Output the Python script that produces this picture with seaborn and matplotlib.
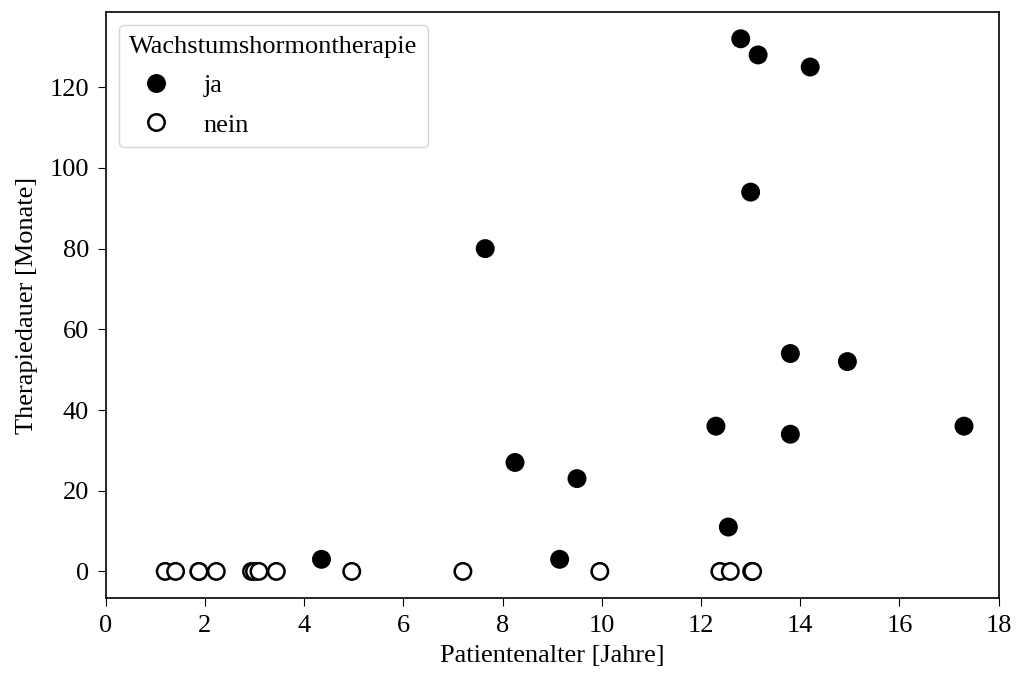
import pandas as pd
import matplotlib.pyplot as plt
import seaborn as sns

# Patientenalter [Jahre], Therapiedauer [Monate]
alter_ja = [12.8, 13.15, 14.2, 13.0, 7.65, 13.8, 14.95, 12.3, 13.8, 17.3, 8.25, 9.5, 12.55, 4.35, 9.15]
dauer_ja = [132, 128, 125, 94, 80, 54, 52, 36, 34, 36, 27, 23, 11, 3, 3]
alter_nein = [1.2, 1.41, 1.88, 1.88, 2.23, 2.94, 3.0, 3.09, 3.44, 4.96, 7.2, 9.96, 12.38, 12.59, 13.02, 13.04]
dauer_nein = [0] * len(alter_nein)

df = pd.DataFrame({
    "alter": alter_ja + alter_nein,
    "dauer": dauer_ja + dauer_nein,
    "Wachstumshormontherapie": ["ja"] * len(alter_ja) + ["nein"] * len(alter_nein),
})

sns.set_style("ticks")
plt.rcParams["font.family"] = ["Liberation Serif", "DejaVu Serif"]
for key in ["text.color", "axes.labelcolor", "xtick.color", "ytick.color", "axes.edgecolor"]:
    plt.rcParams[key] = "black"
fs = 19

fig, ax = plt.subplots(figsize=(10.16, 6.75), dpi=100)
sns.scatterplot(data=df, x="alter", y="dauer", hue="Wachstumshormontherapie",
                palette={"ja": "black", "nein": "white"}, edgecolor="black",
                linewidth=1.8, s=140, ax=ax)

ax.set_xlim(0, 18)
ax.set_xticks(range(0, 19, 2))
ax.set_yticks(range(0, 121, 20))
ax.set_xlabel("Patientenalter [Jahre]", fontsize=fs, labelpad=6)
ax.set_ylabel("Therapiedauer [Monate]", fontsize=fs, labelpad=8)
ax.tick_params(labelsize=fs, length=6, pad=6)
for sp in ax.spines.values():
    sp.set_visible(True)
    sp.set_linewidth(1.2)

leg = ax.legend(title="Wachstumshormontherapie", loc="upper left", fontsize=fs,
                title_fontsize=fs, labelspacing=0.6)
leg._legend_box.align = "left"
for h in leg.legend_handles:
    h.set_markeredgecolor("black")
    h.set_markeredgewidth(1.8)

fig.subplots_adjust(left=0.104, right=0.983, top=0.982, bottom=0.114)
fig.savefig("out.png")
